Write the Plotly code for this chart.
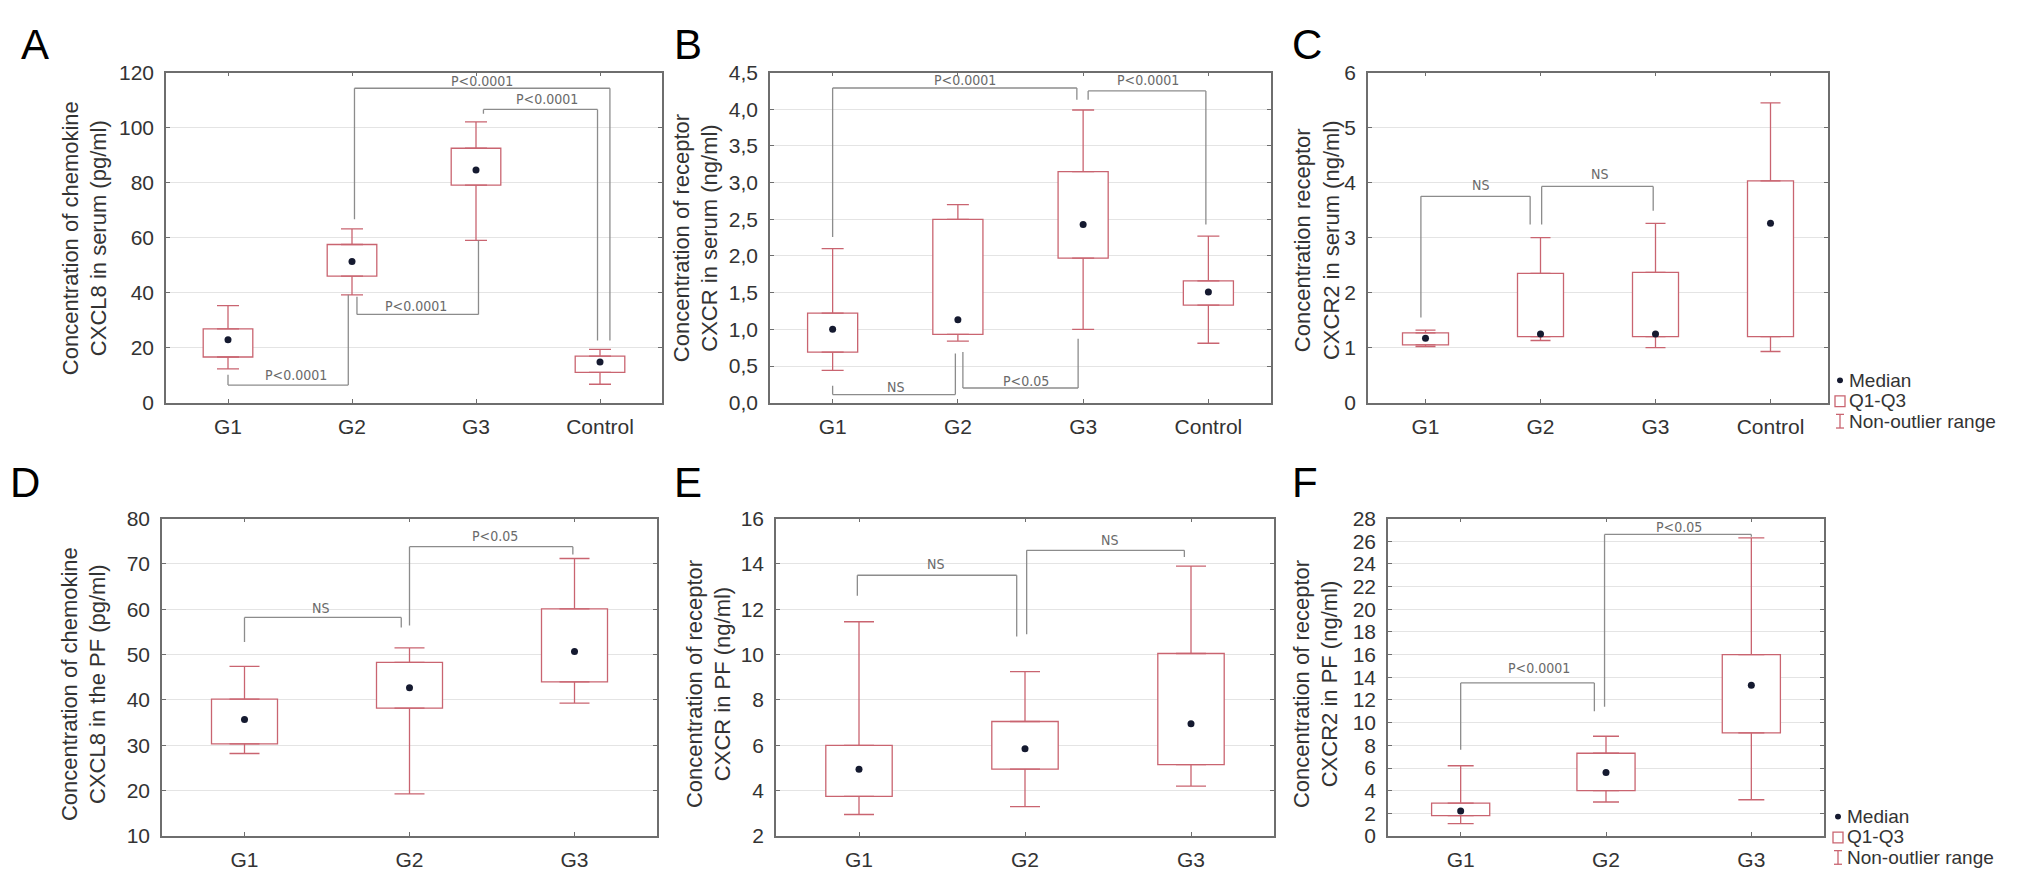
import plotly.graph_objects as go

# ---- data ----
serum_groups = ["G1", "G2", "G3", "Control"]
pf_groups = ["G1", "G2", "G3"]

# A: chemokine CXCL8 in serum (pg/ml) - lower whisker, Q1, median, Q3, upper whisker
a_low = [12.3, 39.2, 59.0, 6.7]
a_q1 = [16.6, 46.0, 79.1, 11.0]
a_med = [22.9, 51.3, 84.6, 14.8]
a_q3 = [26.8, 57.5, 92.5, 16.9]
a_high = [35.3, 63.2, 102.1, 19.4]

# B: receptor CXCR in serum (ng/ml)
b_low = [0.44, 0.84, 1.00, 0.81]
b_q1 = [0.69, 0.93, 1.97, 1.33]
b_med = [1.00, 1.13, 2.43, 1.51]
b_q3 = [1.22, 2.50, 3.15, 1.66]
b_high = [2.10, 2.70, 3.99, 2.27]

# C: receptor CXCR2 in serum (ng/ml)
c_low = [1.02, 1.13, 1.00, 0.93]
c_q1 = [1.05, 1.20, 1.20, 1.20]
c_med = [1.17, 1.25, 1.25, 3.26]
c_q3 = [1.27, 2.35, 2.37, 4.03]
c_high = [1.32, 3.00, 3.26, 5.45]

# D: chemokine CXCL8 in the PF (pg/ml)
d_low = [28.2, 19.3, 39.3]
d_q1 = [30.3, 38.2, 44.0]
d_med = [35.7, 42.7, 50.7]
d_q3 = [40.2, 48.3, 60.1]
d_high = [47.4, 51.5, 71.2]

# E: receptor CXCR in PF (ng/ml)
e_low = [2.95, 3.30, 4.20]
e_q1 = [3.75, 4.95, 5.15]
e_med = [4.95, 5.85, 6.95]
e_q3 = [6.00, 7.05, 10.05]
e_high = [11.45, 9.25, 13.90]

# F: receptor CXCR2 in PF (ng/ml)
f_low = [1.1, 3.0, 3.2]
f_q1 = [1.8, 4.0, 9.1]
f_med = [2.2, 5.6, 13.3]
f_q3 = [2.9, 7.3, 16.0]
f_high = [6.2, 8.8, 26.3]

# significance brackets: x start, y start, bracket level, x end, y end, label, label x, label y
a_brackets = [
    (0.0, 10.2, 6.4, 0.97, 39.2, "P<0.0001", 0.55, 9.9),
    (1.04, 38.5, 32.1, 2.02, 59.0, "P<0.0001", 1.52, 35.3),
    (1.02, 66.7, 114.3, 3.08, 22.6, "P<0.0001", 2.05, 117.0),
    (2.06, 105.0, 106.6, 2.98, 22.6, "P<0.0001", 2.57, 110.5),
]
b_brackets = [
    (0.0, 2.26, 4.29, 1.95, 4.13, "P<0.0001", 1.06, 4.40),
    (2.04, 4.13, 4.25, 2.98, 2.43, "P<0.0001", 2.52, 4.40),
    (0.0, 0.23, 0.11, 0.98, 0.67, "NS", 0.50, 0.21),
    (1.04, 0.69, 0.20, 1.96, 0.87, "P<0.05", 1.54, 0.30),
]
c_brackets = [
    (-0.04, 1.55, 3.75, 0.91, 3.24, "NS", 0.48, 3.95),
    (1.01, 3.24, 3.93, 1.98, 3.49, "NS", 1.51, 4.16),
]
d_brackets = [
    (0.0, 52.8, 58.2, 0.95, 56.0, "NS", 0.46, 60.3),
    (1.0, 56.4, 73.8, 1.99, 72.1, "P<0.05", 1.52, 76.1),
]
e_brackets = [
    (-0.01, 12.6, 13.5, 0.95, 10.8, "NS", 0.46, 14.0),
    (1.01, 10.9, 14.6, 1.96, 14.3, "NS", 1.51, 15.05),
]
f_brackets = [
    (0.0, 7.6, 13.5, 0.92, 11.0, "P<0.0001", 0.54, 14.8),
    (0.99, 11.4, 26.6, 2.0, 26.4, "P<0.05", 1.5, 27.3),
]

legend_labels = ["Median", "Q1-Q3", "Non-outlier range"]

# ---- styling / page geometry ----
W, H, OFF = 2016, 877, 8   # figure size, body margin of the html page
BOX = "#c96470"
DOT = "#151a30"
BRK = "#8c8c8c"
FRAME = "#6e6e6e"
TXT = "#333333"
FONT = "Liberation Sans, Arial, Helvetica, sans-serif"
NARROW = "Liberation Sans Narrow, DejaVu Sans Condensed, Arial Narrow, sans-serif"


def px(x):
    return (x - OFF) / W


def py(y):
    return 1 - (y - OFF) / H


fig = go.Figure()
shapes = []
annotations = []


def add_panel(k, letter, groups, low, q1, med, q3, high, brackets,
              box_px, yrange, dtick, capw, title, title_px, letter_px, tickformat=None):
    xa = "x" if k == 1 else f"x{k}"
    ya = "y" if k == 1 else f"y{k}"
    x0, y0, x1, y1 = box_px

    # Q1-Q3 box
    fig.add_trace(go.Bar(
        x=groups, y=[b - a for a, b in zip(q1, q3)], base=q1, width=0.4,
        marker=dict(color="white", line=dict(color=BOX, width=1.3)),
        xaxis=xa, yaxis=ya, showlegend=False, hoverinfo="skip"))
    # whiskers (non-outlier range)
    fig.add_trace(go.Scatter(
        x=groups, y=q3, mode="markers", marker=dict(size=1, color="rgba(0,0,0,0)"),
        error_y=dict(type="data", symmetric=False,
                     array=[h - b for b, h in zip(q3, high)], arrayminus=[0] * len(groups),
                     color=BOX, thickness=1.3, width=capw),
        xaxis=xa, yaxis=ya, showlegend=False, hoverinfo="skip"))
    fig.add_trace(go.Scatter(
        x=groups, y=q1, mode="markers", marker=dict(size=1, color="rgba(0,0,0,0)"),
        error_y=dict(type="data", symmetric=False,
                     array=[0] * len(groups), arrayminus=[a - l for l, a in zip(low, q1)],
                     color=BOX, thickness=1.3, width=capw),
        xaxis=xa, yaxis=ya, showlegend=False, hoverinfo="skip"))
    # medians
    fig.add_trace(go.Scatter(
        x=groups, y=med, mode="markers", marker=dict(size=7, color=DOT),
        xaxis=xa, yaxis=ya, showlegend=False))

    axis_common = dict(showline=True, linecolor=FRAME, linewidth=1.5, mirror="ticks",
                       ticks="inside", ticklen=4, tickcolor=FRAME,
                       tickfont=dict(family=FONT, size=21, color=TXT))
    fig.update_layout(**{
        ("xaxis" if k == 1 else f"xaxis{k}"): dict(
            domain=[px(x0), px(x1)], anchor=ya, type="category",
            categoryorder="array", categoryarray=groups,
            range=[-0.5, len(groups) - 0.5], showgrid=False, fixedrange=True,
            ticklabelstandoff=4, **axis_common),
        ("yaxis" if k == 1 else f"yaxis{k}"): dict(
            domain=[py(y1), py(y0)], anchor=xa, range=yrange, dtick=dtick,
            tick0=yrange[0], tickformat=tickformat, showgrid=True,
            gridcolor="#e4e4e4", gridwidth=1, zeroline=False,
            ticklabelstandoff=6, **axis_common),
    })

    for sx, sy, lvl, ex, ey, lab, lx, ly in brackets:
        for (ax_, ay_, bx_, by_) in [(sx, sy, sx, lvl), (sx, lvl, ex, lvl), (ex, lvl, ex, ey)]:
            shapes.append(dict(type="line", xref=xa, yref=ya, x0=ax_, y0=ay_, x1=bx_, y1=by_,
                               line=dict(color=BRK, width=1.3)))
        annotations.append(dict(xref=xa, yref=ya, x=lx, y=ly, text=lab, showarrow=False,
                                font=dict(family=NARROW, size=14, color="#6a6a6a")))

    # axis title (two lines, rotated)
    annotations.append(dict(xref="paper", yref="paper", x=px(title_px[0]), y=py(title_px[1]),
                            text=title, textangle=-90, showarrow=False,
                            xanchor="center", yanchor="middle",
                            font=dict(family=FONT, size=22, color=TXT)))
    # panel letter
    annotations.append(dict(xref="paper", yref="paper", x=px(letter_px[0]), y=py(letter_px[1]),
                            text=letter, showarrow=False, xanchor="center", yanchor="middle",
                            font=dict(family=FONT, size=42, color="black")))


def add_legend(x_sym, y_first, step):
    ys = [y_first + i * step for i in range(3)]
    # median dot
    shapes.append(dict(type="circle", xref="paper", yref="paper",
                       x0=px(x_sym - 3), x1=px(x_sym + 3), y0=py(ys[0] + 3), y1=py(ys[0] - 3),
                       fillcolor=DOT, line=dict(width=0)))
    # Q1-Q3 square
    shapes.append(dict(type="rect", xref="paper", yref="paper",
                       x0=px(x_sym - 5), x1=px(x_sym + 5), y0=py(ys[1] + 6), y1=py(ys[1] - 5),
                       fillcolor="white", line=dict(color=BOX, width=1.3)))
    # whisker symbol
    for seg in [(x_sym, ys[2] - 7, x_sym, ys[2] + 7), (x_sym - 4, ys[2] - 7, x_sym + 4, ys[2] - 7),
                (x_sym - 4, ys[2] + 7, x_sym + 4, ys[2] + 7)]:
        shapes.append(dict(type="line", xref="paper", yref="paper",
                           x0=px(seg[0]), y0=py(seg[1]), x1=px(seg[2]), y1=py(seg[3]),
                           line=dict(color=BOX, width=1.3)))
    for lab, yy in zip(legend_labels, ys):
        annotations.append(dict(xref="paper", yref="paper", x=px(x_sym + 8), y=py(yy),
                                text=lab, showarrow=False, xanchor="left", yanchor="middle",
                                borderpad=0, font=dict(family=FONT, size=19, color=TXT)))


add_panel(1, "A", serum_groups, a_low, a_q1, a_med, a_q3, a_high, a_brackets,
          (166, 62, 662, 401), [0, 120], 20, 11,
          "Concentration of chemokine<br>CXCL8 in serum (pg/ml)", (85, 232), (35, 33))
add_panel(2, "B", serum_groups, b_low, b_q1, b_med, b_q3, b_high, b_brackets,
          (770, 62, 1271, 401), [0, 4.5], 0.5, 11,
          "Concentration of receptor<br>CXCR in serum (ng/ml)", (696, 232), (688, 33),
          tickformat=".1f")
add_panel(3, "C", serum_groups, c_low, c_q1, c_med, c_q3, c_high, c_brackets,
          (1368, 62, 1828, 401), [0, 6], 1, 10,
          "Concentration receptor<br>CXCR2 in serum (ng/ml)", (1317, 234), (1307, 33))
add_panel(4, "D", pf_groups, d_low, d_q1, d_med, d_q3, d_high, d_brackets,
          (162, 520, 657, 846), [10, 80], 10, 15,
          "Concentration of chemokine<br>CXCL8 in the PF (pg/ml)", (84, 690), (25, 483))
add_panel(5, "E", pf_groups, e_low, e_q1, e_med, e_q3, e_high, e_brackets,
          (776, 520, 1274, 846), [2, 16], 2, 15,
          "Concentration of receptor<br>CXCR in PF (ng/ml)", (709, 690), (688, 483))
add_panel(6, "F", pf_groups, f_low, f_q1, f_med, f_q3, f_high, f_brackets,
          (1388, 520, 1824, 846), [0, 28], 2, 13,
          "Concentration of receptor<br>CXCR2 in PF (ng/ml)", (1316, 690), (1305, 483))

add_legend(1840, 378, 21)
add_legend(1838, 826, 21)

fig.update_layout(
    width=W, height=H, margin=dict(l=0, r=0, t=0, b=0),
    paper_bgcolor="white", plot_bgcolor="white",
    separators=",.", barmode="overlay", showlegend=False,
    font=dict(family=FONT, color=TXT),
    shapes=shapes, annotations=annotations,
)

fig.write_html("out.html")
